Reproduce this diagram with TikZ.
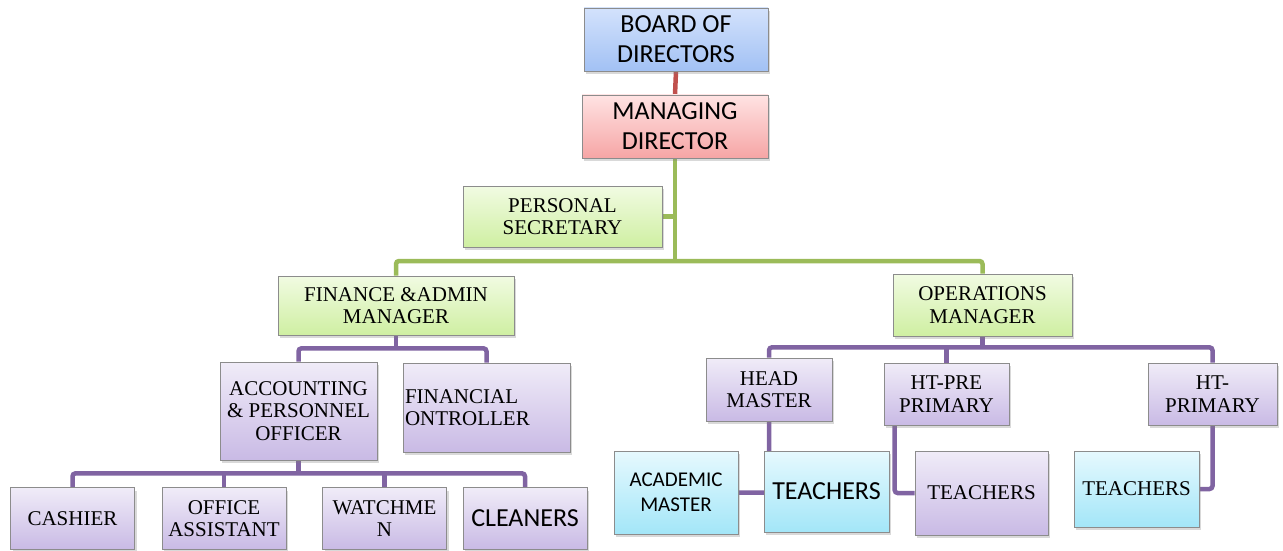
\documentclass[tikz,border=0pt]{standalone}
\usepackage{fontspec}
\setmainfont{Liberation Serif}
\newfontfamily\calibri{Carlito}
\usetikzlibrary{shadows,backgrounds}
\definecolor{blueTop}{HTML}{D3E2FC}
\definecolor{blueBot}{HTML}{A2C1F4}
\definecolor{pinkTop}{HTML}{FFE3E3}
\definecolor{pinkBot}{HTML}{F6A5A5}
\definecolor{greenTop}{HTML}{F1FBE2}
\definecolor{greenBot}{HTML}{CFEFA2}
\definecolor{purpleTop}{HTML}{F0ECF8}
\definecolor{purpleBot}{HTML}{C9BAE5}
\definecolor{cyanTop}{HTML}{E6F9FE}
\definecolor{cyanBot}{HTML}{A3E6F8}
\definecolor{redLine}{HTML}{C0504D}
\definecolor{greenLine}{HTML}{9BBB59}
\definecolor{purpleLine}{HTML}{8064A2}
\tikzset{
  orgbox/.style={draw=black!45, line width=0.7pt, inner sep=2pt, align=center,
    drop shadow={opacity=0.3, shadow xshift=2pt, shadow yshift=-3pt}},
  bluebox/.style={orgbox, top color=blueTop, bottom color=blueBot},
  pinkbox/.style={orgbox, top color=pinkTop, bottom color=pinkBot},
  greenbox/.style={orgbox, top color=greenTop, bottom color=greenBot},
  purplebox/.style={orgbox, top color=purpleTop, bottom color=purpleBot},
  cyanbox/.style={orgbox, top color=cyanTop, bottom color=cyanBot},
  romantext/.style={font=\fontsize{21}{22.5}\selectfont},
  sanslarge/.style={font=\calibri\fontsize{26}{30}\selectfont},
  sanssmall/.style={font=\calibri\fontsize{21}{25}\selectfont},
  link/.style={line width=4.5pt, rounded corners=3pt},
  redlink/.style={link, draw=redLine},
  greenlink/.style={link, draw=greenLine},
  purplelink/.style={link, draw=purpleLine}
}
\begin{document}
\begin{tikzpicture}[x=1pt,y=-1pt]
\useasboundingbox (0,0) rectangle (1283,551);
% top
\node[bluebox, sanslarge, minimum width=184pt, minimum height=63pt] (bod) at (676,39.5) {BOARD OF\\DIRECTORS};
\node[pinkbox, sanslarge, minimum width=186pt, minimum height=63pt] (md) at (675,126.5) {MANAGING\\DIRECTOR};
\node[greenbox, romantext, minimum width=199pt, minimum height=61pt] (ps) at (562.5,216.5) {PERSONAL\\SECRETARY};
% managers
\node[greenbox, romantext, minimum width=236pt, minimum height=59pt] (fam) at (396,305.5) {FINANCE \&ADMIN\\MANAGER};
\node[greenbox, romantext, minimum width=179pt, minimum height=62pt] (om) at (982.5,305) {OPERATIONS\\MANAGER};
% finance side
\node[purplebox, romantext, minimum width=157pt, minimum height=98pt] (apo) at (298.5,411) {ACCOUNTING\\\& PERSONNEL\\OFFICER};
\node[purplebox, romantext, minimum height=89pt, text width=163pt, align=left] (fc) at (486.5,407.5) {FINANCIAL\\ONTROLLER};
\node[purplebox, romantext, minimum width=124pt, minimum height=62pt] (cash) at (72.5,518.5) {CASHIER};
\node[purplebox, romantext, minimum width=124pt, minimum height=62pt] (oa) at (224,518.5) {OFFICE\\ASSISTANT};
\node[purplebox, romantext, minimum width=124pt, minimum height=62pt] (wm) at (384.5,518.5) {WATCHME\\N};
\node[purplebox, sanslarge, minimum width=124pt, minimum height=62pt] (cl) at (525,518.5) {CLEANERS};
% operations side
\node[purplebox, romantext, minimum width=126pt, minimum height=63pt] (hm) at (769,389.5) {HEAD\\MASTER};
\node[purplebox, romantext, minimum width=125pt, minimum height=62pt] (htpp) at (946.5,394) {HT-PRE\\PRIMARY};
\node[purplebox, romantext, minimum width=129pt, minimum height=62pt] (htp) at (1212.5,394) {HT-\\PRIMARY};
\node[cyanbox, sanssmall, minimum width=124pt, minimum height=83pt] (am) at (676,492.5) {ACADEMIC\\MASTER};
\node[cyanbox, sanslarge, minimum width=125pt, minimum height=81pt] (tch) at (826.5,491.5) {TEACHERS};
\node[purplebox, romantext, minimum width=133pt, minimum height=84pt] (tchpp) at (981.5,493) {TEACHERS};
\node[cyanbox, romantext, minimum width=125pt, minimum height=76pt] (tchp) at (1136.5,489) {TEACHERS};
% connectors
\begin{pgfonlayer}{background}
\draw[redlink] (bod.south) -- (md.north);
\coordinate (gbar) at (675,261);
\draw[greenlink] (md.south) -- (gbar);
\draw[greenlink] (ps.east) -- (ps.east -| md.south);
\draw[greenlink] (fam.north) |- (gbar) -| (om.north);
\draw[purplelink] (fam.south) -- ++(0,13) coordinate (fbar);
\draw[purplelink] (apo.north) |- (fbar) -| (fc.north);
\draw[purplelink] (apo.south) -- ++(0,13) coordinate (abar);
\draw[purplelink] (cash.north) |- (abar) -| (cl.north);
\draw[purplelink] (oa.north) -- (oa.north |- abar);
\draw[purplelink] (wm.north) -- (wm.north |- abar);
\draw[purplelink] (om.south) -- ++(0,11) coordinate (obar);
\draw[purplelink] (hm.north) |- (obar) -| (htp.north);
\draw[purplelink] (htpp.north) -- (htpp.north |- obar);
\draw[purplelink] (hm.south) |- (am.east);
\draw[purplelink] (htpp.south west) ++(11,0) |- (tchpp.west);
\draw[purplelink] (htp.south) |- (tchp.east);
\end{pgfonlayer}
\end{tikzpicture}
\end{document}
